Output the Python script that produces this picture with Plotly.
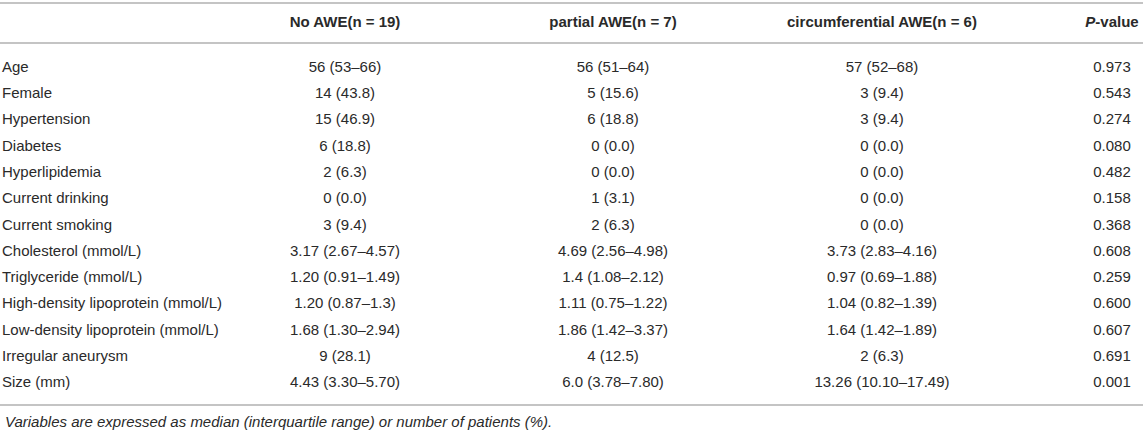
import plotly.graph_objects as go

# table contents
variables = ["Age", "Female", "Hypertension", "Diabetes", "Hyperlipidemia",
             "Current drinking", "Current smoking", "Cholesterol (mmol/L)",
             "Triglyceride (mmol/L)", "High-density lipoprotein (mmol/L)",
             "Low-density lipoprotein (mmol/L)", "Irregular aneurysm", "Size (mm)"]
no_awe = ["56 (53–66)", "14 (43.8)", "15 (46.9)", "6 (18.8)", "2 (6.3)", "0 (0.0)",
          "3 (9.4)", "3.17 (2.67–4.57)", "1.20 (0.91–1.49)", "1.20 (0.87–1.3)",
          "1.68 (1.30–2.94)", "9 (28.1)", "4.43 (3.30–5.70)"]
partial_awe = ["56 (51–64)", "5 (15.6)", "6 (18.8)", "0 (0.0)", "0 (0.0)", "1 (3.1)",
               "2 (6.3)", "4.69 (2.56–4.98)", "1.4 (1.08–2.12)", "1.11 (0.75–1.22)",
               "1.86 (1.42–3.37)", "4 (12.5)", "6.0 (3.78–7.80)"]
circ_awe = ["57 (52–68)", "3 (9.4)", "3 (9.4)", "0 (0.0)", "0 (0.0)", "0 (0.0)",
            "0 (0.0)", "3.73 (2.83–4.16)", "0.97 (0.69–1.88)", "1.04 (0.82–1.39)",
            "1.64 (1.42–1.89)", "2 (6.3)", "13.26 (10.10–17.49)"]
p_values = ["0.973", "0.543", "0.274", "0.080", "0.482", "0.158", "0.368", "0.608",
            "0.259", "0.600", "0.607", "0.691", "0.001"]
headers = ["No AWE(n = 19)", "partial AWE(n = 7)", "circumferential AWE(n = 6)",
           "<i>P</i>-value"]
footnote = "Variables are expressed as median (interquartile range) or number of patients (%)."

W, H = 1143, 432
font = "Liberation Sans, Arial, Helvetica, sans-serif"
ink = "#2a2a2a"
rule = "#c4c4c4"

# layout in pixel units
header_y = 23
first_row, row_step = 68, 26.3
row_y = [first_row + i * row_step for i in range(len(variables))]
col_x = [345, 613, 882, 1112]

fig = go.Figure()

fig.add_trace(go.Scatter(
    x=[2] * len(variables), y=row_y, text=variables, mode="text",
    textposition="middle right",
    textfont=dict(family=font, size=15, color=ink),
    hoverinfo="skip"))

for cx, col in zip(col_x, [no_awe, partial_awe, circ_awe, p_values]):
    fig.add_trace(go.Scatter(
        x=[cx] * len(col), y=row_y, text=col, mode="text",
        textposition="middle center",
        textfont=dict(family=font, size=15, color=ink),
        hoverinfo="skip"))

fig.add_trace(go.Scatter(
    x=col_x, y=[header_y] * len(headers), text=["<b>%s</b>" % h for h in headers],
    mode="text", textposition="middle center",
    textfont=dict(family=font, size=15, color=ink),
    hoverinfo="skip"))

# horizontal rules
for yy in [3, 43, 405]:
    fig.add_shape(type="line", x0=0, x1=W, y0=yy, y1=yy,
                  line=dict(color=rule, width=2))

fig.add_annotation(x=3, y=421, text="<i>%s</i>" % footnote, showarrow=False,
                   xanchor="left", yanchor="middle",
                   font=dict(family=font, size=15, color=ink))

fig.update_layout(
    width=W, height=H,
    margin=dict(l=0, r=0, t=0, b=0),
    paper_bgcolor="white", plot_bgcolor="white",
    showlegend=False,
    xaxis=dict(range=[0, W], visible=False, fixedrange=True),
    yaxis=dict(range=[H, 0], visible=False, fixedrange=True),
)

# drop the default page margin so the figure fills the window
fig.write_html("out.html", config={"displayModeBar": False},
               post_script="document.body.style.margin='0';")
